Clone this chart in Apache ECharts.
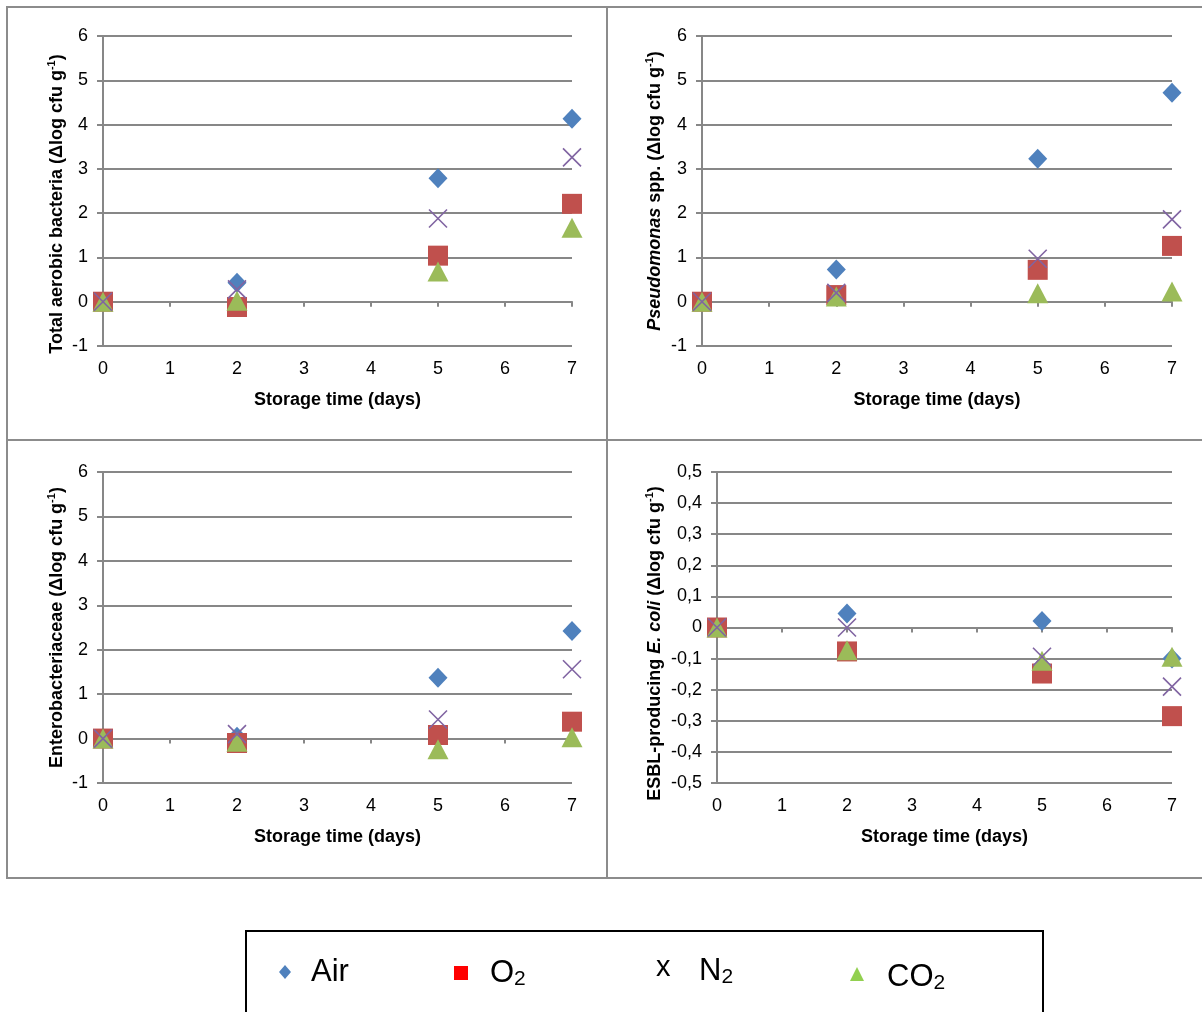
<!DOCTYPE html>
<html>
<head>
<meta charset="utf-8">
<script src="https://cdn.jsdelivr.net/npm/echarts@6/dist/echarts.min.js"></script>
<style>html,body{margin:0;padding:0;background:#fff;}#c{width:1202px;height:1012px;}</style>
</head>
<body>
<div id="c"></div>
<script>
const days = [0, 2, 5, 7];
const xTicks = [0, 1, 2, 3, 4, 5, 6, 7];
const seriesNames = ['Air', 'O2', 'N2', 'CO2'];

// Panel 1: Total aerobic bacteria
const totalAir = [0, 0.43, 2.79, 4.13];
const totalO2  = [0, -0.12, 1.04, 2.21];
const totalN2  = [0, 0.28, 1.88, 3.26];
const totalCO2 = [0, 0.02, 0.68, 1.67];
// Panel 2: Pseudomonas spp.
const pseudoAir = [0, 0.73, 3.23, 4.72];
const pseudoO2  = [0, 0.15, 0.72, 1.26];
const pseudoN2  = [0, 0.2, 0.97, 1.86];
const pseudoCO2 = [0, 0.12, 0.19, 0.23];
// Panel 3: Enterobacteriaceae
const enteroAir = [0, 0.04, 1.37, 2.42];
const enteroO2  = [0, -0.1, 0.08, 0.38];
const enteroN2  = [0, 0.1, 0.43, 1.56];
const enteroCO2 = [0, -0.07, -0.24, 0.03];
// Panel 4: ESBL-producing E. coli
const esblAir = [0, 0.045, 0.021, -0.1];
const esblO2  = [0, -0.077, -0.148, -0.285];
const esblN2  = [0, 0, -0.094, -0.19];
const esblCO2 = [0, -0.073, -0.107, -0.094];

const yMin = [-1, -1, -1, -0.5];
const yMax = [6, 6, 6, 0.5];
const yStep = [1, 1, 1, 0.1];

const panelData = [
  [totalAir, totalO2, totalN2, totalCO2],
  [pseudoAir, pseudoO2, pseudoN2, pseudoCO2],
  [enteroAir, enteroO2, enteroN2, enteroCO2],
  [esblAir, esblO2, esblN2, esblCO2]
];
const yTitles = [
  '{b|Total aerobic bacteria (Δlog cfu g}{sup|-1}{b|)}',
  '{bi|Pseudomonas}{b| spp. (Δlog cfu g}{sup|-1}{b|)}',
  '{b|Enterobacteriaceae (Δlog cfu g}{sup|-1}{b|)}',
  '{b|ESBL-producing }{bi|E. coli}{b| (Δlog cfu g}{sup|-1}{b|)}'
];

const FONT = "'Liberation Sans', Arial, sans-serif";
const GRAY = '#878787';
const grids = [
  {left: 103, top: 36, width: 469, height: 310},
  {left: 702, top: 36, width: 470, height: 310},
  {left: 103, top: 472, width: 469, height: 311},
  {left: 717, top: 472, width: 455, height: 311}
];
const nameGaps = [35, 36, 35, 51];
const namePads = [[0, 26, 0, 0], [0, 0, 0, 0], [0, 0, 0, 0], [0, 32, 0, 0]];

function richFor() {
  return {
    b: {fontFamily: FONT, fontWeight: 'bold', fontSize: 18, color: '#000', lineHeight: 22},
    bi: {fontFamily: FONT, fontWeight: 'bold', fontStyle: 'italic', fontSize: 18, color: '#000', lineHeight: 22},
    sup: {fontFamily: FONT, fontWeight: 'bold', fontSize: 11, color: '#000', lineHeight: 22, verticalAlign: 'top', padding: [0, 0, 9, 0]}
  };
}

function fmtY(v, i) {
  if (i === 3) {
    const r = Math.round(v * 10) / 10;
    if (r === 0) return '0';
    return String(r).replace('.', ',');
  }
  return String(Math.round(v));
}

const xAxes = [], yAxes = [], series = [];
const styles = [
  {symbol: 'diamond', symbolSize: [19, 20], itemStyle: {color: '#4F81BD', opacity: 1}, z: 2},
  {symbol: 'rect', symbolSize: [20, 20], itemStyle: {color: '#C0504D', opacity: 1}, z: 3},
  {symbol: 'path://M0,0L10,10M10,0L0,10', symbolSize: [18, 18], itemStyle: {color: 'rgba(0,0,0,0)', borderColor: '#8064A2', borderWidth: 1.6, opacity: 1}, z: 5},
  {symbol: 'triangle', symbolSize: [21, 20], itemStyle: {color: '#9BBB59', opacity: 1}, z: 4}
];

grids.forEach((g, i) => {
  xAxes.push({
    gridIndex: i, type: 'value', min: xTicks[0], max: xTicks[xTicks.length - 1], interval: 1,
    position: 'bottom',
    axisLine: {show: false, onZero: false}, axisTick: {show: false}, splitLine: {show: false},
    axisLabel: {margin: 14, fontSize: 18, color: '#000', fontFamily: FONT},
    name: 'Storage time (days)', nameLocation: 'middle', nameGap: 45,
    nameTextStyle: {fontFamily: FONT, fontWeight: 'bold', fontSize: 18, color: '#000'}
  });
  xAxes.push({
    gridIndex: i, type: 'value', min: xTicks[0], max: xTicks[xTicks.length - 1], interval: 1,
    position: 'bottom',
    axisLine: {show: true, onZero: true, onZeroAxisIndex: i, lineStyle: {color: GRAY, width: 2}},
    axisTick: {show: true, length: 5, lineStyle: {color: GRAY, width: 2}},
    axisLabel: {show: false}, splitLine: {show: false}
  });
  yAxes.push({
    gridIndex: i, type: 'value', min: yMin[i], max: yMax[i], interval: yStep[i],
    axisLine: {show: true, onZero: false, lineStyle: {color: GRAY, width: 2}},
    axisTick: {show: true, length: 6, lineStyle: {color: GRAY, width: 2}},
    splitLine: {show: true, lineStyle: {color: GRAY, width: 2}},
    axisLabel: {margin: 15, fontSize: 18, color: '#000', fontFamily: FONT, formatter: v => fmtY(v, i)},
    name: yTitles[i], nameLocation: 'middle', nameRotate: 90, nameGap: nameGaps[i],
    nameTextStyle: {rich: richFor(), padding: namePads[i]}
  });
  panelData[i].forEach((vals, k) => {
    series.push(Object.assign({
      type: 'scatter', name: seriesNames[k], xAxisIndex: 2 * i, yAxisIndex: i,
      data: days.map((d, j) => [d, vals[j]]), silent: true, animation: false
    }, styles[k]));
  });
});

const legendRich = {
  t: {fontFamily: FONT, fontSize: 31, color: '#000'},
  s: {fontFamily: FONT, fontSize: 21, color: '#000', verticalAlign: 'bottom', padding: [12, 0, 0, 0]}
};

const graphic = [
  {type: 'rect', shape: {x: 7, y: 7, width: 1205, height: 871}, style: {fill: 'none', stroke: '#8c8c8c', lineWidth: 2}, silent: true},
  {type: 'line', shape: {x1: 607, y1: 7, x2: 607, y2: 878}, style: {stroke: '#8c8c8c', lineWidth: 2}, silent: true},
  {type: 'line', shape: {x1: 7, y1: 440, x2: 1210, y2: 440}, style: {stroke: '#8c8c8c', lineWidth: 2}, silent: true},
  {type: 'rect', shape: {x: 246, y: 931, width: 797, height: 120}, style: {fill: 'none', stroke: '#000', lineWidth: 2}, silent: true},
  {type: 'polygon', shape: {points: [[285, 965], [291, 972], [285, 979], [279, 972]]}, style: {fill: '#4F81BD'}, silent: true},
  {type: 'text', x: 311, y: 972, style: {text: 'Air', fontFamily: FONT, fontSize: 31, fill: '#000', verticalAlign: 'middle'}, silent: true},
  {type: 'rect', shape: {x: 454, y: 966, width: 14, height: 14}, style: {fill: '#FF0000'}, silent: true},
  {type: 'text', x: 490, y: 973, style: {text: '{t|O}{s|2}', rich: legendRich, verticalAlign: 'middle'}, silent: true},
  {type: 'text', x: 656, y: 968, style: {text: 'x', fontFamily: FONT, fontSize: 29, fill: '#000', verticalAlign: 'middle'}, silent: true},
  {type: 'text', x: 699, y: 971, style: {text: '{t|N}{s|2}', rich: legendRich, verticalAlign: 'middle'}, silent: true},
  {type: 'polygon', shape: {points: [[857, 967], [864, 981], [850, 981]]}, style: {fill: '#92D050'}, silent: true},
  {type: 'text', x: 887, y: 977, style: {text: '{t|CO}{s|2}', rich: legendRich, verticalAlign: 'middle'}, silent: true}
];

const chart = echarts.init(document.getElementById('c'), null, {renderer: 'canvas'});
chart.setOption({
  animation: false,
  backgroundColor: '#fff',
  grid: grids.map(g => Object.assign({containLabel: false}, g)),
  xAxis: xAxes,
  yAxis: yAxes,
  series: series,
  graphic: graphic
});
</script>
</body>
</html>
